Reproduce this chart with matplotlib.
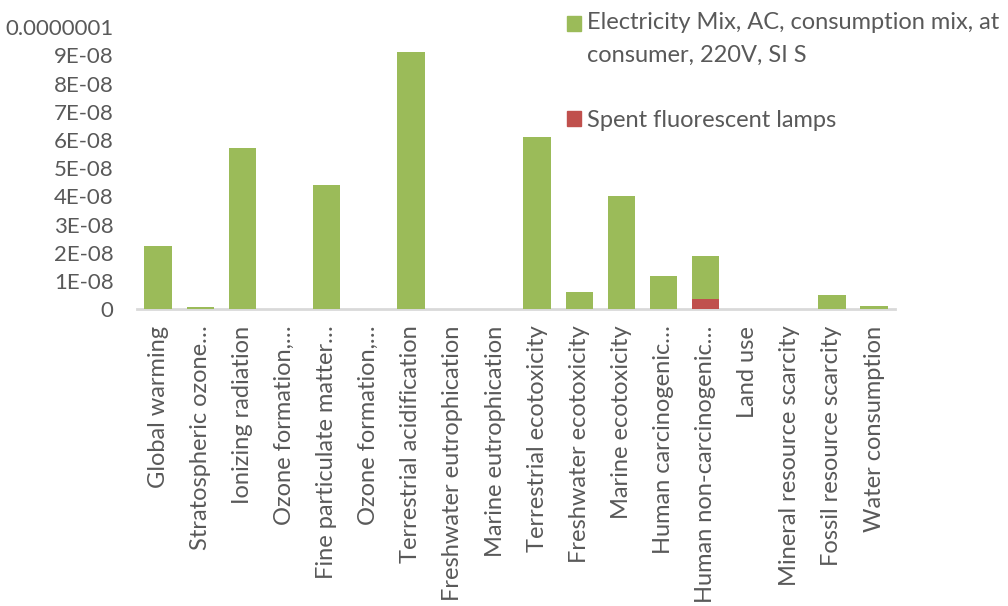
import matplotlib
matplotlib.use("Agg")
from matplotlib import pyplot as plt
from matplotlib.patches import Rectangle

categories = [
    "Global warming",
    "Stratospheric ozone…",
    "Ionizing radiation",
    "Ozone formation,…",
    "Fine particulate matter…",
    "Ozone formation,…",
    "Terrestrial acidification",
    "Freshwater eutrophication",
    "Marine eutrophication",
    "Terrestrial ecotoxicity",
    "Freshwater ecotoxicity",
    "Marine ecotoxicity",
    "Human carcinogenic…",
    "Human non-carcinogenic…",
    "Land use",
    "Mineral resource scarcity",
    "Fossil resource scarcity",
    "Water consumption",
]
electricity = [2.24e-8, 0.06e-8, 5.73e-8, 0.0, 4.42e-8, 0.0, 9.11e-8, 0.0, 0.0,
               6.12e-8, 0.59e-8, 4.02e-8, 1.18e-8, 1.52e-8, 0.0, 0.0, 0.50e-8, 0.11e-8]
lamps = [0.0, 0.0, 0.0, 0.0, 0.0, 0.0, 0.0, 0.0, 0.0,
         0.0, 0.0, 0.0, 0.0, 0.35e-8, 0.0, 0.0, 0.0, 0.0]
series_names = ["Electricity Mix, AC, consumption mix, at\nconsumer, 220V, SI S",
                "Spent fluorescent lamps"]
yticks = [i * 1e-8 for i in range(11)]
ytick_labels = ["0", "1E-08", "2E-08", "3E-08", "4E-08", "5E-08",
                "6E-08", "7E-08", "8E-08", "9E-08", "0.0000001"]

green = "#9BBB59"
red = "#C0504D"
grey = "#595959"

fig = plt.figure(figsize=(10.08, 6.06), dpi=100)
ax = fig.add_axes([0.136, 0.490, 0.752, 0.465])

x = range(len(categories))
ax.bar(x, lamps, width=0.65, color=red, linewidth=0, zorder=2)
ax.bar(x, electricity, width=0.65, bottom=lamps, color=green, linewidth=0, zorder=2)

ax.set_xlim(-0.5, len(categories) - 0.5)
ax.set_ylim(0, 1e-7)
ax.set_yticks(yticks)
ax.set_yticklabels(ytick_labels, fontsize=16, color=grey, family="Lato")
ax.set_xticks(list(x))
ax.set_xticklabels(categories, rotation=90, fontsize=17, color=grey, family="Lato")
ax.tick_params(axis="y", length=0, pad=17)
ax.tick_params(axis="x", length=0, pad=12)
for side in ["left", "right", "top"]:
    ax.spines[side].set_visible(False)
ax.spines["bottom"].set_color("#D9D9D9")
ax.spines["bottom"].set_linewidth(2)
ax.spines["bottom"].set_zorder(1)

# legend drawn by hand so the swatch sits on the first line of a wrapped label
entries = [(green, series_names[0], 31, 12), (red, series_names[1], 126, 110)]
for color, name, base, top in entries:
    fig.patches.append(Rectangle((567 / 1008, 1 - base / 606), 14 / 1008, 15 / 606,
                                 transform=fig.transFigure, color=color))
    fig.text(587 / 1008, 1 - top / 606, name, fontsize=17, color=grey, family="Lato",
             va="top", linespacing=1.72)

fig.savefig("out.png", dpi=100)
